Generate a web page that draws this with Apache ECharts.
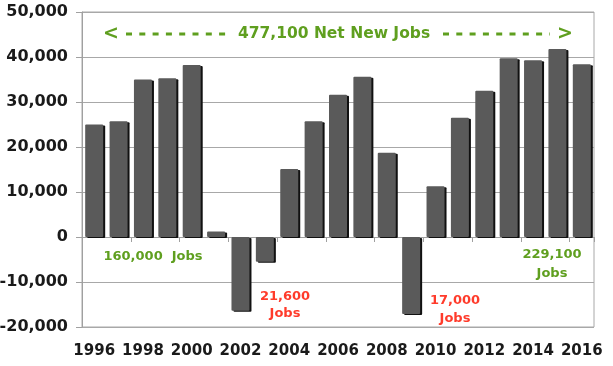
<!DOCTYPE html>
<html><head><meta charset="utf-8">
<script src="https://cdn.jsdelivr.net/npm/echarts@6/dist/echarts.min.js"></script>
<style>html,body{margin:0;padding:0;background:#fff}#c{width:613px;height:366px}</style>
</head><body><div id="c"></div>
<script>
const years = ['1996','1997','1998','1999','2000','2001','2002','2003','2004','2005','2006','2007','2008','2009','2010','2011','2012','2013','2014','2015','2016'];
const netJobs = [25000,25700,35000,35300,38200,1200,-16400,-5500,15100,25700,31600,35600,18700,-17100,11300,26500,32500,39700,39300,41800,38400];
const yTicks = [-20000,-10000,0,10000,20000,30000,40000,50000];
const annotationTexts = ['477,100 Net New Jobs','160,000  Jobs','21,600\nJobs','17,000\nJobs','229,100\nJobs'];

const GREEN = '#5f9f1f', RED = '#ff3b2b';
const FONT = 'DejaVu Sans';
const chart = echarts.init(document.getElementById('c'));
const note = (x, y, t, c, lh) => ({type:'text', x:x, y:y, style:{text:t, fill:c, font:'bold 13px "DejaVu Sans"', textAlign:'center', textVerticalAlign:'top', lineHeight:lh||17}});
chart.setOption({
  animation:false,
  grid:{left:82,right:19,top:12,bottom:39,show:true,borderColor:'#a8a8a8',borderWidth:1,containLabel:false,outerBoundsMode:'none'},
  xAxis:[{
    type:'category', data:years, position:'bottom',
    axisLine:{onZero:true,lineStyle:{color:'#a0a0a0'}},
    axisTick:{show:true,length:5,alignWithLabel:false,lineStyle:{color:'#a0a0a0'}},
    axisLabel:{show:false}
  },{
    type:'category', data:years, position:'bottom', gridIndex:0,
    axisLine:{show:false,onZero:false}, axisTick:{show:false},
    axisLabel:{interval:1,color:'#1a1a1a',fontFamily:FONT,fontWeight:'bold',fontSize:15,margin:17}
  }],
  yAxis:{
    type:'value', min:-20000, max:50000, interval:10000,
    axisLine:{show:true,lineStyle:{color:'#a0a0a0'}},
    axisTick:{show:true,length:6,lineStyle:{color:'#a0a0a0'}},
    splitLine:{lineStyle:{color:'#a8a8a8'}},
    axisLabel:{color:'#1a1a1a',fontFamily:FONT,fontWeight:'bold',fontSize:16,margin:14,
      formatter:v=>yTicks.includes(v)?v.toLocaleString('en-US'):''}
  },
  series:[{
    type:'bar', data:netJobs, xAxisIndex:0, barWidth:18,
    itemStyle:{color:'#5a5a5a',borderWidth:0,borderRadius:1,
      shadowColor:'#111',shadowOffsetX:2,shadowOffsetY:1,shadowBlur:0}
  }],
  graphic:[
    {type:'text', x:103, y:34, style:{text:'<', fill:GREEN, font:'bold 19px "DejaVu Sans"', textAlign:'left', textVerticalAlign:'middle'}},
    {type:'line', shape:{x1:126,y1:34,x2:232,y2:34}, style:{stroke:GREEN, lineWidth:3, lineDash:[6,7.3]}},
    {type:'text', x:334, y:34, style:{text:annotationTexts[0], fill:GREEN, font:'bold 15.5px "DejaVu Sans"', textAlign:'center', textVerticalAlign:'middle'}},
    {type:'line', shape:{x1:443,y1:34,x2:550,y2:34}, style:{stroke:GREEN, lineWidth:3, lineDash:[6,7.3]}},
    {type:'text', x:573, y:34, style:{text:'>', fill:GREEN, font:'bold 19px "DejaVu Sans"', textAlign:'right', textVerticalAlign:'middle'}},
    note(153, 248, annotationTexts[1], GREEN),
    note(285, 288, annotationTexts[2], RED, 17),
    note(455, 292, annotationTexts[3], RED, 18),
    note(552, 245, annotationTexts[4], GREEN, 19)
  ]
});
</script></body></html>
